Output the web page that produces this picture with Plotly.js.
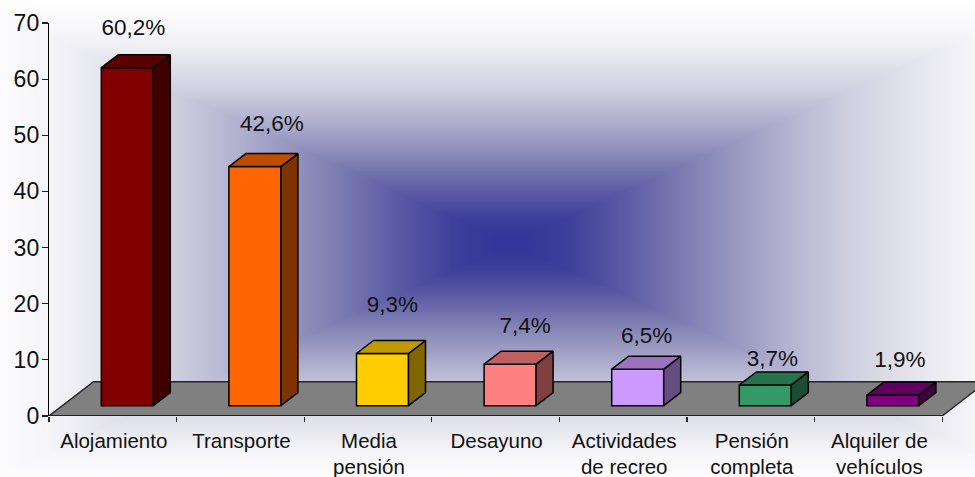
<!DOCTYPE html>
<html><head><meta charset="utf-8">
<script src="https://cdn.plot.ly/plotly-3.0.1.min.js"></script>
<style>html,body{margin:0;padding:0;background:#fff;overflow:hidden}#chart{width:975px;height:477px}</style>
</head><body><div id="chart"></div>
<script>
// ---- data ----
const categories = ["Alojamiento","Transporte","Media<br>pensión","Desayuno","Actividades<br>de recreo","Pensión<br>completa","Alquiler de<br>vehículos"];
const values = [60.2,42.6,9.3,7.4,6.5,3.7,1.9];
const valueLabels = ["60,2%","42,6%","9,3%","7,4%","6,5%","3,7%","1,9%"];
const frontColors = ["#800000","#FF6600","#FFCC00","#FF8080","#CC99FF","#339966","#800080"];
const topColors = ["#5a0000","#bf4d00","#bf9900","#bf6060","#9973bf","#267350","#600060"];
const sideColors = ["#400000","#803300","#806600","#804040","#664d80","#1a4d33","#400040"];
const yTicks = [0,10,20,30,40,50,60,70];
// ---- per-label placement of the value texts, in px relative to the bar's front top ----
const labelLiftPx = [38.7,41.3,47.6,36.6,32.3,24.3,33.3];
const labelShiftPx = [6,17,10,15,9,7,7];

// ---- geometry ----
const W=975,H=477,mL=49,mT=23,mB=61;
const plotW=W-mL, plotH=H-mT-mB;
const pxX=127.6, pxY=plotH/70;
const xMin=-0.5, xMax=xMin+plotW/pxX;
const barOff=14.5/pxX, barW=52/pxX, base=10.3/pxY;
const labelOff=1/pxX;
const depX=17/pxX, depY=13/pxY;
const floorX=44.5/pxX, floorY=34.3/pxY;
const edge={color:"#000",width:1.5};

// ---- background: rectangular gradient ----
const stops=[[0,[51,51,153]],[.12,[62,62,155]],[.25,[92,92,165]],[.41,[134,134,183]],[.6,[180,180,208]],[.73,[208,208,224]],[.88,[230,230,238]],[1,[246,246,249]],[1.16,[255,255,255]]];
function ramp(t){
  for(let i=1;i<stops.length;i++){
    if(t<=stops[i][0]){
      const a=stops[i-1],b=stops[i],f=(t-a[0])/(b[0]-a[0]);
      return a[1].map((v,k)=>v+(b[1][k]-v)*f);
    }
  }
  return stops[stops.length-1][1];
}
const cv=document.createElement("canvas");cv.width=W;cv.height=H;
const cx=cv.getContext("2d"),im=cx.createImageData(W,H);
for(let y=0;y<H;y++)for(let x=0;x<W;x++){
  const t=Math.max(Math.abs(x-510)/465,Math.abs(y-243)/210),c=ramp(t),p=(y*W+x)*4;
  im.data[p]=c[0];im.data[p+1]=c[1];im.data[p+2]=c[2];im.data[p+3]=255;
}
cx.putImageData(im,0,0);

// ---- traces ----
const traces=[];
traces.push({type:"bar",hoverinfo:"skip",showlegend:false,
  x:values.map((_,i)=>i+barOff),y:values,base:values.map(()=>base),width:barW,
  marker:{color:frontColors,line:edge}});
traces.push({type:"scatter",mode:"lines",cliponaxis:false,hoverinfo:"skip",showlegend:false,
  x:[xMin,xMin+7],y:[0,0],line:{color:"#1a1a1a",width:1.6}});
values.forEach((v,i)=>{
  const l=i+barOff-barW/2, r=l+barW, b=base, t=base+v;
  traces.push({type:"scatter",mode:"lines",hoverinfo:"skip",showlegend:false,
    x:[r,r+depX,r+depX,r,r],y:[b,b+depY,t+depY,t,b],fill:"toself",fillcolor:sideColors[i],line:edge});
  traces.push({type:"scatter",mode:"lines",hoverinfo:"skip",showlegend:false,
    x:[l,l+depX,r+depX,r,l],y:[t,t+depY,t+depY,t,t],fill:"toself",fillcolor:topColors[i],line:edge});
});
traces.push({type:"scatter",mode:"text",hoverinfo:"skip",showlegend:false,cliponaxis:false,
  x:values.map((_,i)=>i+barOff+labelShiftPx[i]/pxX),
  y:values.map((v,i)=>base+v+labelLiftPx[i]/pxY),
  text:valueLabels,textposition:"middle center",
  textfont:{family:"Liberation Sans, Arial, sans-serif",size:22.5,color:"#111"}});

const fx=[xMin,xMin+floorX,xMin+7+floorX,xMin+7], fy=[0,floorY,floorY,0];
const layout={
  width:W,height:H,showlegend:false,paper_bgcolor:"rgba(0,0,0,0)",plot_bgcolor:"rgba(0,0,0,0)",
  margin:{l:mL,r:0,t:mT,b:mB,pad:0},
  barmode:"overlay",
  font:{family:"Liberation Sans, Arial, sans-serif",size:20.5,color:"#111"},
  xaxis:{range:[xMin,xMax],showgrid:false,zeroline:false,showline:false,
    tickmode:"array",tickvals:categories.map((_,i)=>i+labelOff),ticktext:categories,ticks:"",ticklen:0,
    ticklabelstandoff:10,tickangle:0,automargin:false,
    minor:{tickmode:"array",tickvals:[-0.5,0.5,1.5,2.5,3.5,4.5,5.5,6.5],ticks:"outside",ticklen:5,tickwidth:1.2,tickcolor:"#222",showgrid:false}},
  yaxis:{range:[0,70],showgrid:false,zeroline:false,showline:true,linecolor:"#000",linewidth:1.2,
    tickmode:"array",tickvals:yTicks,ticks:"outside",ticklen:6,tickwidth:1.2,tickcolor:"#222",automargin:false,
    ticklabelstandoff:-2,tickfont:{size:23}},
  shapes:[{type:"path",xref:"x",yref:"y",layer:"below",
    path:fx.map((x,i)=>(i?"L":"M")+x+","+fy[i]).join(" ")+" Z",
    fillcolor:"#808080",line:{color:"#262626",width:1.4}}],
  images:[{source:cv.toDataURL(),xref:"paper",yref:"paper",x:-mL/plotW,y:1+mT/plotH,
    sizex:W/plotW,sizey:H/plotH,sizing:"stretch",xanchor:"left",yanchor:"top",layer:"below"}]
};
Plotly.newPlot("chart",traces,layout,{displayModeBar:false,staticPlot:true});
</script></body></html>
